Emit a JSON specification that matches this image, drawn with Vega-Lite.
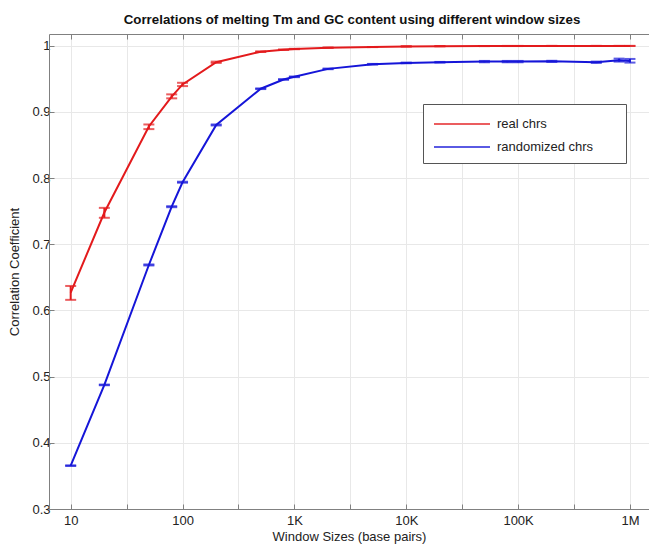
{
  "$schema": "https://vega.github.io/schema/vega-lite/v6.json",
  "width": 600,
  "height": 475,
  "autosize": {"type": "none"},
  "padding": {"left": 49, "top": 34, "right": 0, "bottom": 35},
  "background": "white",
  "title": {
    "text": "Correlations of melting Tm and GC content using different window sizes",
    "font": "Liberation Sans",
    "fontSize": 13.3,
    "fontWeight": "bold",
    "color": "#111111",
    "anchor": "middle",
    "dx": 3,
    "offset": 7
  },
  "config": {
    "view": {"stroke": null},
    "font": "Liberation Sans",
    "axis": {
      "labelFont": "Liberation Sans",
      "titleFont": "Liberation Sans",
      "labelFontSize": 13,
      "titleFontSize": 13,
      "titleFontWeight": "normal",
      "labelColor": "#222222",
      "titleColor": "#222222",
      "domainColor": "#808080",
      "tickColor": "#808080",
      "gridColor": "#e8e8e8",
      "gridWidth": 1
    },
    "legend": {
      "orient": "none",
      "legendX": 374,
      "legendY": 70,
      "padding": 9,
      "fillColor": "white",
      "strokeColor": "#555555",
      "symbolType": "M-1,0H4.6",
      "symbolSize": 400,
      "symbolStrokeWidth": 2,
      "symbolOffset": 1,
      "labelOffset": 42,
      "rowPadding": 5,
      "labelLimit": 300,
      "labelFont": "Liberation Sans",
      "labelFontSize": 13,
      "labelColor": "#222222",
      "title": null
    }
  },
  "data": {
    "values": [
      {"series": "real chrs", "size": 10, "r": 0.627, "lo": 0.616, "hi": 0.637},
      {"series": "real chrs", "size": 20, "r": 0.748, "lo": 0.740, "hi": 0.755},
      {"series": "real chrs", "size": 50, "r": 0.878, "lo": 0.874, "hi": 0.881},
      {"series": "real chrs", "size": 80, "r": 0.923, "lo": 0.9205, "hi": 0.9265},
      {"series": "real chrs", "size": 100, "r": 0.9415, "lo": 0.939, "hi": 0.944},
      {"series": "real chrs", "size": 200, "r": 0.975, "lo": 0.974, "hi": 0.976},
      {"series": "real chrs", "size": 500, "r": 0.991, "lo": 0.9905, "hi": 0.9915},
      {"series": "real chrs", "size": 800, "r": 0.994, "lo": 0.9937, "hi": 0.9943},
      {"series": "real chrs", "size": 1000, "r": 0.995, "lo": 0.9947, "hi": 0.9953},
      {"series": "real chrs", "size": 2000, "r": 0.997, "lo": 0.9968, "hi": 0.9972},
      {"series": "real chrs", "size": 5000, "r": 0.998, "lo": 0.9979, "hi": 0.9981},
      {"series": "real chrs", "size": 10000, "r": 0.999, "lo": 0.9989, "hi": 0.9991},
      {"series": "real chrs", "size": 20000, "r": 0.9993, "lo": 0.9992, "hi": 0.9994},
      {"series": "real chrs", "size": 50000, "r": 0.9995, "lo": 0.9994, "hi": 0.9996},
      {"series": "real chrs", "size": 80000, "r": 0.9996, "lo": 0.9995, "hi": 0.9997},
      {"series": "real chrs", "size": 100000, "r": 0.9996, "lo": 0.9995, "hi": 0.9997},
      {"series": "real chrs", "size": 200000, "r": 0.9997, "lo": 0.9996, "hi": 0.9998},
      {"series": "real chrs", "size": 500000, "r": 0.9997, "lo": 0.9996, "hi": 0.9998},
      {"series": "real chrs", "size": 800000, "r": 0.9997, "lo": 0.9996, "hi": 0.9998},
      {"series": "real chrs", "size": 1000000, "r": 0.9997, "lo": 0.9996, "hi": 0.9998},
      {"series": "randomized chrs", "size": 10, "r": 0.3655, "lo": 0.365, "hi": 0.366},
      {"series": "randomized chrs", "size": 20, "r": 0.4874, "lo": 0.487, "hi": 0.488},
      {"series": "randomized chrs", "size": 50, "r": 0.6687, "lo": 0.668, "hi": 0.6695},
      {"series": "randomized chrs", "size": 80, "r": 0.7568, "lo": 0.756, "hi": 0.7575},
      {"series": "randomized chrs", "size": 100, "r": 0.7936, "lo": 0.793, "hi": 0.7945},
      {"series": "randomized chrs", "size": 200, "r": 0.8802, "lo": 0.8795, "hi": 0.881},
      {"series": "randomized chrs", "size": 500, "r": 0.935, "lo": 0.9345, "hi": 0.9355},
      {"series": "randomized chrs", "size": 800, "r": 0.949, "lo": 0.9485, "hi": 0.9495},
      {"series": "randomized chrs", "size": 1000, "r": 0.953, "lo": 0.9525, "hi": 0.9535},
      {"series": "randomized chrs", "size": 2000, "r": 0.965, "lo": 0.9645, "hi": 0.9655},
      {"series": "randomized chrs", "size": 5000, "r": 0.972, "lo": 0.9715, "hi": 0.9725},
      {"series": "randomized chrs", "size": 10000, "r": 0.974, "lo": 0.9735, "hi": 0.9745},
      {"series": "randomized chrs", "size": 20000, "r": 0.975, "lo": 0.9745, "hi": 0.9755},
      {"series": "randomized chrs", "size": 50000, "r": 0.976, "lo": 0.975, "hi": 0.977},
      {"series": "randomized chrs", "size": 80000, "r": 0.976, "lo": 0.975, "hi": 0.977},
      {"series": "randomized chrs", "size": 100000, "r": 0.976, "lo": 0.975, "hi": 0.977},
      {"series": "randomized chrs", "size": 200000, "r": 0.9764, "lo": 0.9755, "hi": 0.9772},
      {"series": "randomized chrs", "size": 500000, "r": 0.975, "lo": 0.974, "hi": 0.976},
      {"series": "randomized chrs", "size": 800000, "r": 0.978, "lo": 0.976, "hi": 0.9805},
      {"series": "randomized chrs", "size": 1000000, "r": 0.977, "lo": 0.9745, "hi": 0.980}
    ]
  },
  "resolve": {"axis": {"x": "independent"}},
  "layer": [
    {
      "mark": {"type": "line", "strokeWidth": 2, "clip": true},
      "encoding": {
        "x": {
          "field": "size",
          "type": "quantitative",
          "scale": {"type": "log", "domain": [6.4, 1480000], "nice": false},
          "axis": {
            "orient": "bottom",
            "title": "Window Sizes (base pairs)",
            "titlePadding": 3,
            "values": [10, 31.6228, 100, 316.228, 1000, 3162.28, 10000, 31622.8, 100000, 316228, 1000000],
            "labelExpr": "datum.value == 10 ? '10' : datum.value == 100 ? '100' : datum.value == 1000 ? '1K' : datum.value == 10000 ? '10K' : datum.value == 100000 ? '100K' : datum.value == 1000000 ? '1M' : ''",
            "tickSize": -5,
            "labelPadding": 10,
            "grid": true
          }
        },
        "y": {
          "field": "r",
          "type": "quantitative",
          "scale": {"domain": [0.3, 1.0177], "nice": false, "zero": false},
          "axis": {
            "title": "Correlation Coefficient",
            "values": [0.3, 0.4, 0.5, 0.6, 0.7, 0.8, 0.9, 1],
            "format": ".1~f",
            "tickSize": -5,
            "labelPadding": 4,
            "titlePadding": 10,
            "grid": true
          }
        },
        "color": {
          "field": "series",
          "type": "nominal",
          "scale": {"domain": ["real chrs", "randomized chrs"], "range": ["#e31a1c", "#1515d8"]},
          "legend": {"labelExpr": "datum.label + '\u00a0\u2800\u2800'"}
        }
      }
    },
    {
      "mark": {"type": "rule", "strokeWidth": 2},
      "encoding": {
        "x": {
          "field": "size",
          "type": "quantitative",
          "axis": {
            "orient": "top",
            "title": null,
            "labels": false,
            "values": [10, 31.6228, 100, 316.228, 1000, 3162.28, 10000, 31622.8, 100000, 316228, 1000000],
            "tickSize": -5,
            "grid": false
          }
        },
        "y": {"field": "lo", "type": "quantitative"},
        "y2": {"field": "hi"},
        "color": {"field": "series", "type": "nominal"}
      }
    },
    {
      "mark": {"type": "tick", "orient": "horizontal", "size": 11, "thickness": 2},
      "encoding": {
        "x": {"field": "size", "type": "quantitative", "axis": null},
        "y": {"field": "lo", "type": "quantitative"},
        "color": {"field": "series", "type": "nominal"}
      }
    },
    {
      "mark": {"type": "tick", "orient": "horizontal", "size": 11, "thickness": 2},
      "encoding": {
        "x": {"field": "size", "type": "quantitative", "axis": null},
        "y": {"field": "hi", "type": "quantitative"},
        "color": {"field": "series", "type": "nominal"}
      }
    }
  ]
}
